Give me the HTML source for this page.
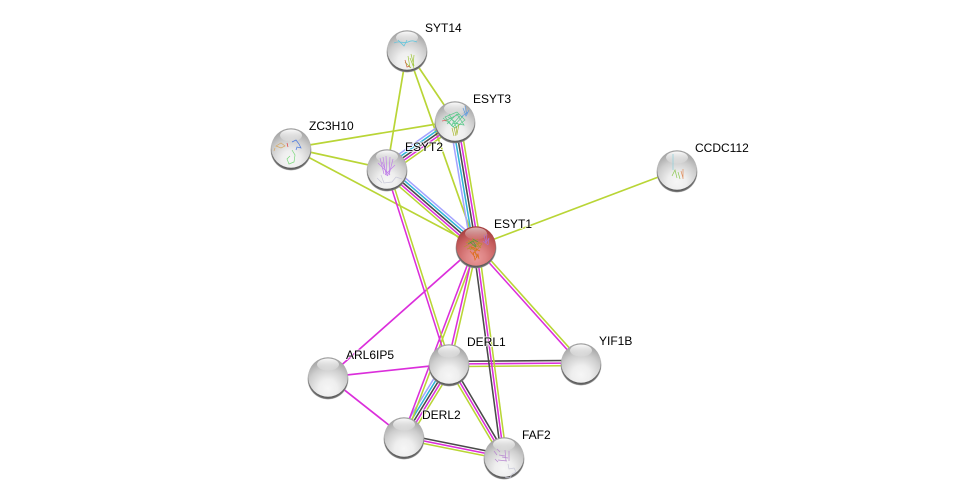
<!DOCTYPE html>
<html><head><meta charset="utf-8"><style>
html,body{margin:0;padding:0;background:#fff;width:975px;height:502px;overflow:hidden}
svg{display:block}
text{font:12px "Liberation Sans",sans-serif;fill:#000;stroke:#fff;stroke-opacity:.75;stroke-width:2px;paint-order:stroke;stroke-linejoin:round}
.e line,.e{stroke-width:1.7;fill:none}
.s{fill:none;stroke-width:.7}
</style></head><body>
<svg width="975" height="502" viewBox="0 0 975 502" xmlns="http://www.w3.org/2000/svg">
<defs>
<g id="b5" stroke-width="1.55">
<line x1="0" x2="1" y1="-5.2" y2="-5.2" stroke="#a3a3ff"/>
<line x1="0" x2="1" y1="-2.6" y2="-2.6" stroke="#2fb4d6"/>
<line x1="0" x2="1" y1="0" y2="0" stroke="#4a4a4a"/>
<line x1="0" x2="1" y1="2.6" y2="2.6" stroke="#db2edb"/>
<line x1="0" x2="1" y1="5.2" y2="5.2" stroke="#b9d536"/>
</g>
<g id="b3" stroke-width="1.55">
<line x1="0" x2="1" y1="-2.6" y2="-2.6" stroke="#4a4a4a"/>
<line x1="0" x2="1" y1="0" y2="0" stroke="#db2edb"/>
<line x1="0" x2="1" y1="2.6" y2="2.6" stroke="#b9d536"/>
</g>
<g id="b2" stroke-width="1.55">
<line x1="0" x2="1" y1="-1.4" y2="-1.4" stroke="#db2edb"/>
<line x1="0" x2="1" y1="1.4" y2="1.4" stroke="#b9d536"/>
</g>
<radialGradient id="g" cx=".5" cy=".8" r=".8">
<stop offset="0" stop-color="#f6f6f6"/><stop offset=".3" stop-color="#eeeeee"/><stop offset=".65" stop-color="#cdcdcd"/><stop offset="1" stop-color="#9c9c9c"/>
</radialGradient>
<radialGradient id="r" cx=".5" cy=".8" r=".8">
<stop offset="0" stop-color="#ea9a9a"/><stop offset=".3" stop-color="#de8484"/><stop offset=".65" stop-color="#c86060"/><stop offset="1" stop-color="#a03a3a"/>
</radialGradient>
<linearGradient id="h" x1="0" y1="0" x2="0" y2="1">
<stop offset="0" stop-color="#fff" stop-opacity=".95"/><stop offset="1" stop-color="#fff" stop-opacity=".1"/>
</linearGradient>
<linearGradient id="hr" x1="0" y1="0" x2="0" y2="1">
<stop offset="0" stop-color="#fff" stop-opacity=".6"/><stop offset="1" stop-color="#fff" stop-opacity=".05"/>
</linearGradient>
<radialGradient id="sh">
<stop offset=".88" stop-color="#555"/><stop offset=".96" stop-color="#777"/><stop offset="1" stop-color="#aaa" stop-opacity=".3"/>
</radialGradient>
<g id="n">
<circle cx="0" cy="2" r="20.6" fill="url(#sh)"/>
<circle r="19.8" fill="url(#g)"/>
<ellipse cx="0" cy="-12.5" rx="11" ry="6" fill="url(#h)"/>
</g>
<g id="nr">
<circle cx="0" cy="2" r="20.6" fill="url(#sh)"/>
<circle r="19.8" fill="url(#r)"/>
<ellipse cx="0" cy="-12.5" rx="11" ry="6" fill="url(#hr)"/>
</g>
</defs>

<g class="e" stroke="#b9d536">
<line x1="407" y1="50" x2="387" y2="169"/>
<line x1="407" y1="50" x2="455" y2="121"/>
<line x1="407" y1="50" x2="476" y2="246"/>
<line x1="291" y1="148" x2="455" y2="121"/>
<line x1="291" y1="148" x2="387" y2="169"/>
<line x1="291" y1="148" x2="476" y2="246"/>
<line x1="677" y1="170" x2="476" y2="246"/>
</g>
<g class="e" stroke="#db2edb">
<line x1="476" y1="246" x2="328" y2="377"/>
<line x1="328" y1="377" x2="449" y2="364"/>
<line x1="328" y1="377" x2="404" y2="437"/>
</g>
<use href="#b5" transform="matrix(89 77 -.654 .756 387 169)"/>
<use href="#b5" transform="matrix(-21 -125 .986 -.166 476 246)"/>
<use href="#b5" transform="matrix(68 -48 .577 .817 387 169)"/>
<use href="#b5" transform="matrix(45 -73 .851 .524 404 437)"/>
<use href="#b3" transform="matrix(132 -1 .008 1 449 364)"/>
<use href="#b3" transform="matrix(100 20 -.196 .981 404 437)"/>
<use href="#b3" transform="matrix(55 93 -.861 .509 449 364)"/>
<use href="#b3" transform="matrix(-28 -211 .991 -.132 504 457)"/>
<use href="#b2" transform="matrix(-72 191 .936 .353 476 246)"/>
<use href="#b2" transform="matrix(-27 118 .975 .223 476 246)"/>
<use href="#b2" transform="matrix(-62 -195 .953 -.303 449 364)"/>
<use href="#b2" transform="matrix(-105 -117 .745 -.668 581 363)"/>

<use href="#n" x="407" y="50"/>
<path class="s" stroke="#5bc4dc" d="M394 43c5-3 10 1 14-1s6-1 9 0M398 40l6 6 3-6"/>
<path class="s" stroke="#9fc63a" stroke-width=".9" d="M408 56l2 12M411 54l3 12M414 55l-1 11M405 62l6 6M410 58l4 10"/>
<path class="s" stroke="#c8643c" d="M405 60l2 7 3-1"/>
<use href="#n" x="455" y="121"/>
<path class="s" stroke="#58c98a" stroke-width=".9" d="M443 118l12 10 10-8-8-8-12 5 8 10 10-11M447 124l10-10 7 11-12-2M449 114l8 14M445 121l14-7M451 126l9-10M448 117l12 8"/>
<path class="s" stroke="#5d9ae0" stroke-width=".9" d="M463 108l3 8 3-6M461 117l7-5M465 106l2 9"/>
<path class="s" stroke="#a8b830" stroke-width=".9" d="M452 128l2 8M456 126l1 9M459 124l-2 10M454 127l2 9"/>
<path class="s" stroke="#e06060" d="M442 121l5-1"/>
<use href="#n" x="291" y="148"/>
<path class="s" stroke="#d8a860" d="M276 146l5-3 4 3-4 2zM275 148l-1 3"/>
<path class="s" stroke="#4a78e0" stroke-width=".9" d="M292 142l4-2 3 4 2 4-4-1-1 3"/>
<path class="s" stroke="#e04040" stroke-width="1.1" d="M287 143l1 4"/>
<path class="s" stroke="#7ad87a" d="M292 150l3 5-1 7-5 2-2-5 3-3"/>
<use href="#n" x="387" y="169"/>
<path class="s" stroke="#c080e8" stroke-width=".9" d="M380 158l4 16M383 157l3 18M386 156l1 20M390 157l-1 18M393 159l-4 16M378 163l12 12M395 165l-10 10M382 162l6 14"/>
<path class="s" stroke="#c8c8d8" d="M381 175l3 8 8-1 4-5 6 2M377 178l5 5"/>
<use href="#n" x="677" y="170"/>
<path class="s" stroke="#8cd0dc" d="M673 154v16"/>
<path class="s" stroke="#8cc850" stroke-width=".9" d="M672 176l3-6 2 8M678 172l2 7"/>
<path class="s" stroke="#e09060" stroke-width=".9" d="M683 169v10M681 171l2 7"/>
<use href="#n" x="328" y="377"/>
<use href="#n" x="449" y="364"/>
<use href="#n" x="581" y="363"/>
<use href="#n" x="404" y="437"/>
<use href="#n" x="504" y="457"/>
<path class="s" stroke="#b888d0" stroke-width="1.2" d="M494 451l3 4M497 449l3 3M505 450l1 11M509 451l0 10M502 457l6 1M498 460l9 1M495 459l3 3M499 455l6 1"/>
<path class="s" stroke="#c8c8d8" d="M508 464l1 5 5 -1 2 4-4 2-2 4-5-1"/>
<use href="#nr" x="476" y="246"/>
<path class="s" stroke="#b8902c" stroke-width=".9" d="M466 243l8-3 8 4-6 7-7-4 10-4M470 250l10-7M474 249l3 9M468 240l9 9M464 247l14-8M472 238l9 10M467 249l12-3"/>
<path class="s" stroke="#e06a1c" stroke-width="1" d="M473 252l2 8 3-6 1 5M477 249l-4 5M471 247l9 4M475 252l4 6M470 251l5 6"/>
<path class="s" stroke="#3f9a4a" stroke-width=".8" d="M468 244l5-3 3 5M473 239l5 3M470 242l6 5"/>
<path class="s" stroke="#b070d0" stroke-width="1" d="M484 235l2 8 3-5-1 7M483 241l5 4M487 234l-1 8"/>

<text x="425" y="32">SYT14</text>
<text x="473" y="103">ESYT3</text>
<text x="309" y="130">ZC3H10</text>
<text x="405" y="151">ESYT2</text>
<text x="695" y="152">CCDC112</text>
<text x="494" y="228">ESYT1</text>
<text x="346" y="359">ARL6IP5</text>
<text x="467" y="346">DERL1</text>
<text x="599" y="345">YIF1B</text>
<text x="422" y="419">DERL2</text>
<text x="522" y="439">FAF2</text>
</svg>
</body></html>
